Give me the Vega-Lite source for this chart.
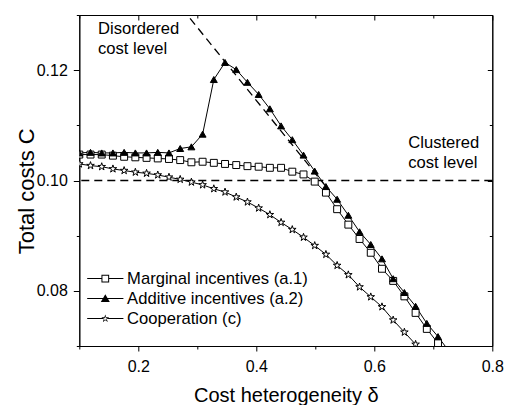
{
  "$schema": "https://vega.github.io/schema/vega-lite/v6.json",
  "width": 413,
  "height": 331,
  "autosize": {"type": "none"},
  "padding": {"left": 79.3, "top": 15, "right": 13.7, "bottom": 59},
  "background": "white",
  "config": {
    "font": "Liberation Sans",
    "view": {"stroke": "black", "strokeWidth": 1},
    "axis": {
      "domainColor": "black", "domainWidth": 1, "tickColor": "black", "tickWidth": 1,
      "labelColor": "black", "labelFont": "Liberation Sans", "labelFontSize": 16,
      "titleColor": "black", "titleFont": "Liberation Sans", "titleFontWeight": "normal",
      "grid": false, "labelFlush": false, "labelOverlap": false
    }
  },
  "resolve": {"axis": {"x": "independent", "y": "independent"}, "scale": {"shape": "independent"}},
  "datasets": {
    "series": [
      {"s": "Marginal incentives (a.1)", "x": 0.100, "y": 0.1047},
      {"s": "Marginal incentives (a.1)", "x": 0.119, "y": 0.1047},
      {"s": "Marginal incentives (a.1)", "x": 0.138, "y": 0.1047},
      {"s": "Marginal incentives (a.1)", "x": 0.157, "y": 0.1045},
      {"s": "Marginal incentives (a.1)", "x": 0.176, "y": 0.1043},
      {"s": "Marginal incentives (a.1)", "x": 0.195, "y": 0.1042},
      {"s": "Marginal incentives (a.1)", "x": 0.214, "y": 0.1041},
      {"s": "Marginal incentives (a.1)", "x": 0.233, "y": 0.1040},
      {"s": "Marginal incentives (a.1)", "x": 0.252, "y": 0.1039},
      {"s": "Marginal incentives (a.1)", "x": 0.271, "y": 0.1037},
      {"s": "Marginal incentives (a.1)", "x": 0.290, "y": 0.1033},
      {"s": "Marginal incentives (a.1)", "x": 0.309, "y": 0.1034},
      {"s": "Marginal incentives (a.1)", "x": 0.328, "y": 0.1032},
      {"s": "Marginal incentives (a.1)", "x": 0.347, "y": 0.1030},
      {"s": "Marginal incentives (a.1)", "x": 0.366, "y": 0.1028},
      {"s": "Marginal incentives (a.1)", "x": 0.385, "y": 0.1026},
      {"s": "Marginal incentives (a.1)", "x": 0.404, "y": 0.1025},
      {"s": "Marginal incentives (a.1)", "x": 0.423, "y": 0.1023},
      {"s": "Marginal incentives (a.1)", "x": 0.442, "y": 0.1023},
      {"s": "Marginal incentives (a.1)", "x": 0.461, "y": 0.1016},
      {"s": "Marginal incentives (a.1)", "x": 0.480, "y": 0.1011},
      {"s": "Marginal incentives (a.1)", "x": 0.499, "y": 0.0998},
      {"s": "Marginal incentives (a.1)", "x": 0.518, "y": 0.0978},
      {"s": "Marginal incentives (a.1)", "x": 0.537, "y": 0.0948},
      {"s": "Marginal incentives (a.1)", "x": 0.556, "y": 0.0920},
      {"s": "Marginal incentives (a.1)", "x": 0.575, "y": 0.0894},
      {"s": "Marginal incentives (a.1)", "x": 0.594, "y": 0.0869},
      {"s": "Marginal incentives (a.1)", "x": 0.613, "y": 0.0840},
      {"s": "Marginal incentives (a.1)", "x": 0.632, "y": 0.0818},
      {"s": "Marginal incentives (a.1)", "x": 0.651, "y": 0.0790},
      {"s": "Marginal incentives (a.1)", "x": 0.670, "y": 0.0760},
      {"s": "Marginal incentives (a.1)", "x": 0.689, "y": 0.0731},
      {"s": "Marginal incentives (a.1)", "x": 0.708, "y": 0.0705},
      {"s": "Marginal incentives (a.1)", "x": 0.727, "y": 0.0678},
      {"s": "Additive incentives (a.2)", "x": 0.100, "y": 0.1050},
      {"s": "Additive incentives (a.2)", "x": 0.119, "y": 0.1051},
      {"s": "Additive incentives (a.2)", "x": 0.138, "y": 0.1050},
      {"s": "Additive incentives (a.2)", "x": 0.157, "y": 0.1050},
      {"s": "Additive incentives (a.2)", "x": 0.176, "y": 0.1051},
      {"s": "Additive incentives (a.2)", "x": 0.195, "y": 0.1050},
      {"s": "Additive incentives (a.2)", "x": 0.214, "y": 0.1050},
      {"s": "Additive incentives (a.2)", "x": 0.233, "y": 0.1051},
      {"s": "Additive incentives (a.2)", "x": 0.252, "y": 0.1050},
      {"s": "Additive incentives (a.2)", "x": 0.271, "y": 0.1058},
      {"s": "Additive incentives (a.2)", "x": 0.290, "y": 0.1061},
      {"s": "Additive incentives (a.2)", "x": 0.309, "y": 0.1084},
      {"s": "Additive incentives (a.2)", "x": 0.328, "y": 0.1183},
      {"s": "Additive incentives (a.2)", "x": 0.347, "y": 0.1214},
      {"s": "Additive incentives (a.2)", "x": 0.366, "y": 0.1201},
      {"s": "Additive incentives (a.2)", "x": 0.385, "y": 0.1178},
      {"s": "Additive incentives (a.2)", "x": 0.404, "y": 0.1156},
      {"s": "Additive incentives (a.2)", "x": 0.423, "y": 0.1130},
      {"s": "Additive incentives (a.2)", "x": 0.442, "y": 0.1099},
      {"s": "Additive incentives (a.2)", "x": 0.461, "y": 0.1074},
      {"s": "Additive incentives (a.2)", "x": 0.480, "y": 0.1046},
      {"s": "Additive incentives (a.2)", "x": 0.499, "y": 0.1017},
      {"s": "Additive incentives (a.2)", "x": 0.518, "y": 0.0989},
      {"s": "Additive incentives (a.2)", "x": 0.537, "y": 0.0966},
      {"s": "Additive incentives (a.2)", "x": 0.556, "y": 0.0937},
      {"s": "Additive incentives (a.2)", "x": 0.575, "y": 0.0907},
      {"s": "Additive incentives (a.2)", "x": 0.594, "y": 0.0884},
      {"s": "Additive incentives (a.2)", "x": 0.613, "y": 0.0858},
      {"s": "Additive incentives (a.2)", "x": 0.632, "y": 0.0822},
      {"s": "Additive incentives (a.2)", "x": 0.651, "y": 0.0797},
      {"s": "Additive incentives (a.2)", "x": 0.670, "y": 0.0772},
      {"s": "Additive incentives (a.2)", "x": 0.689, "y": 0.0741},
      {"s": "Additive incentives (a.2)", "x": 0.708, "y": 0.0717},
      {"s": "Additive incentives (a.2)", "x": 0.727, "y": 0.0690},
      {"s": "Cooperation (c)", "x": 0.100, "y": 0.1030},
      {"s": "Cooperation (c)", "x": 0.119, "y": 0.1027},
      {"s": "Cooperation (c)", "x": 0.138, "y": 0.1025},
      {"s": "Cooperation (c)", "x": 0.157, "y": 0.1021},
      {"s": "Cooperation (c)", "x": 0.176, "y": 0.1018},
      {"s": "Cooperation (c)", "x": 0.195, "y": 0.1015},
      {"s": "Cooperation (c)", "x": 0.214, "y": 0.1013},
      {"s": "Cooperation (c)", "x": 0.233, "y": 0.1010},
      {"s": "Cooperation (c)", "x": 0.252, "y": 0.1006},
      {"s": "Cooperation (c)", "x": 0.271, "y": 0.1002},
      {"s": "Cooperation (c)", "x": 0.290, "y": 0.0997},
      {"s": "Cooperation (c)", "x": 0.309, "y": 0.0992},
      {"s": "Cooperation (c)", "x": 0.328, "y": 0.0985},
      {"s": "Cooperation (c)", "x": 0.347, "y": 0.0979},
      {"s": "Cooperation (c)", "x": 0.366, "y": 0.0970},
      {"s": "Cooperation (c)", "x": 0.385, "y": 0.0961},
      {"s": "Cooperation (c)", "x": 0.404, "y": 0.0950},
      {"s": "Cooperation (c)", "x": 0.423, "y": 0.0938},
      {"s": "Cooperation (c)", "x": 0.442, "y": 0.0924},
      {"s": "Cooperation (c)", "x": 0.461, "y": 0.0911},
      {"s": "Cooperation (c)", "x": 0.480, "y": 0.0897},
      {"s": "Cooperation (c)", "x": 0.499, "y": 0.0882},
      {"s": "Cooperation (c)", "x": 0.518, "y": 0.0866},
      {"s": "Cooperation (c)", "x": 0.537, "y": 0.0846},
      {"s": "Cooperation (c)", "x": 0.556, "y": 0.0829},
      {"s": "Cooperation (c)", "x": 0.575, "y": 0.0807},
      {"s": "Cooperation (c)", "x": 0.594, "y": 0.0789},
      {"s": "Cooperation (c)", "x": 0.613, "y": 0.0771},
      {"s": "Cooperation (c)", "x": 0.632, "y": 0.0747},
      {"s": "Cooperation (c)", "x": 0.651, "y": 0.0725},
      {"s": "Cooperation (c)", "x": 0.670, "y": 0.0703},
      {"s": "Cooperation (c)", "x": 0.689, "y": 0.0680}
    ],
    "dash": [
      {"x": 0.26, "y": 0.13305},
      {"x": 0.515, "y": 0.0993}
    ],
    "notes": [
      {"x": 0.1317, "y": 0.1290, "t": "Disordered\ncost level"},
      {"x": 0.6576, "y": 0.1083, "t": "Clustered\ncost level"}
    ]
  },
  "layer": [
    {
      "data": {"values": [{"y": 0.1}]},
      "mark": {"type": "rule", "color": "black", "strokeWidth": 1.3, "strokeDash": [8, 5]},
      "encoding": {
        "y": {"field": "y", "type": "quantitative", "scale": {"domain": [0.07, 0.13]}, "axis": null}
      }
    },
    {
      "data": {"name": "dash"},
      "mark": {"type": "line", "color": "black", "strokeWidth": 1.3, "strokeDash": [8, 5], "clip": true},
      "encoding": {
        "x": {"field": "x", "type": "quantitative", "scale": {"domain": [0.1, 0.8]},
          "axis": {"orient": "top", "values": [0.2, 0.4, 0.6, 0.8], "labels": false, "title": null, "tickSize": -5}},
        "y": {"field": "y", "type": "quantitative", "scale": {"domain": [0.07, 0.13]},
          "axis": {"orient": "right", "values": [0.08, 0.1, 0.12], "labels": false, "title": null, "tickSize": -5}}
      }
    },
    {
      "data": {"name": "series"},
      "mark": {"type": "line", "color": "black", "strokeWidth": 1, "clip": true},
      "encoding": {
        "x": {"field": "x", "type": "quantitative", "scale": {"domain": [0.1, 0.8]},
          "axis": {"orient": "bottom", "values": [0.2, 0.4, 0.6, 0.8], "format": ".1f",
            "tickSize": 5, "labelPadding": 7,
            "title": "Cost heterogeneity δ", "titleFontSize": 20, "titleBaseline": "alphabetic", "titleY": 55.5}},
        "y": {"field": "y", "type": "quantitative", "scale": {"domain": [0.07, 0.13]},
          "axis": {"orient": "left", "values": [0.08, 0.1, 0.12], "format": ".2f",
            "tickSize": 6, "labelPadding": 6,
            "title": "Total costs C", "titleFontSize": 22, "titleBaseline": "alphabetic", "titleX": -46.3, "titleY": 175.8, "titleAngle": -90, "titleAlign": "center"}},
        "detail": {"field": "s", "type": "nominal"}
      }
    },
    {
      "data": {"name": "series"},
      "mark": {"type": "point", "filled": true, "stroke": "black", "strokeWidth": 1, "opacity": 1, "size": 48, "clip": true},
      "encoding": {
        "x": {"field": "x", "type": "quantitative", "scale": {"domain": [0.1, 0.8]},
          "axis": {"orient": "top", "values": [0.1, 0.3, 0.5, 0.7], "labels": false, "title": null, "domain": false, "tickSize": -3}},
        "y": {"field": "y", "type": "quantitative", "scale": {"domain": [0.07, 0.13]},
          "axis": {"orient": "right", "values": [0.07, 0.09, 0.11, 0.13], "labels": false, "title": null, "domain": false, "tickSize": -3}},
        "fill": {"field": "s", "type": "nominal",
          "scale": {"domain": ["Marginal incentives (a.1)", "Additive incentives (a.2)", "Cooperation (c)"], "range": ["white", "black", "white"]},
          "legend": null},
        "shape": {"field": "s", "type": "nominal",
          "scale": {"domain": ["Marginal incentives (a.1)", "Additive incentives (a.2)", "Cooperation (c)"],
            "range": ["square", "triangle-up", "M0,-1.15L0.258,-0.355L1.094,-0.355L0.417,0.136L0.676,0.930L0,0.439L-0.676,0.930L-0.417,0.136L-1.094,-0.355L-0.258,-0.355Z"]},
          "legend": null}
      }
    },
    {
      "data": {"name": "notes"},
      "mark": {"type": "text", "align": "left", "baseline": "top", "fontSize": 16.6, "lineHeight": 20, "lineBreak": "\n", "color": "black", "font": "Liberation Sans"},
      "encoding": {
        "x": {"field": "x", "type": "quantitative", "scale": {"domain": [0.1, 0.8]},
          "axis": {"orient": "bottom", "values": [0.1, 0.3, 0.5, 0.7], "labels": false, "title": null, "domain": false, "tickSize": 3}},
        "y": {"field": "y", "type": "quantitative", "scale": {"domain": [0.07, 0.13]},
          "axis": {"orient": "left", "values": [0.07, 0.09, 0.11, 0.13], "labels": false, "title": null, "domain": false, "tickSize": 3}},
        "text": {"field": "t", "type": "nominal"}
      }
    },
    {
      "data": {"name": "series"},
      "transform": [{"filter": "false"}],
      "mark": {"type": "point", "filled": true, "color": "black", "strokeWidth": 0, "opacity": 1},
      "encoding": {
        "x": {"field": "x", "type": "quantitative", "axis": null},
        "y": {"field": "y", "type": "quantitative", "axis": null},
        "shape": {"field": "s", "type": "nominal",
          "scale": {"domain": ["Marginal incentives (a.1)", "Additive incentives (a.2)", "Cooperation (c)"],
            "range": [
              "M-5.4,-0.15H-1.15V0.15H-5.4Z M1.15,-0.15H5.4V0.15H1.15Z M-1.15,-1.15H1.15V1.15H-1.15Z M-0.85,-0.85V0.85H0.85V-0.85Z",
              "M-5.4,-0.15H-0.7V0.15H-5.4Z M0.7,-0.15H5.4V0.15H0.7Z M0,-1.3L1.35,1.0L-1.35,1.0Z",
              "M-5.4,-0.15H-0.66V0.15H-5.4Z M0.66,-0.15H5.4V0.15H0.66Z M0,-1.25L0.2807,-0.3863L1.1888,-0.3863L0.4541,0.1476L0.7347,1.0113L0,0.4775L-0.7347,1.0113L-0.4541,0.1476L-1.1888,-0.3863L-0.2807,-0.3863Z M0,-0.6875L-0.1544,-0.2125L-0.6538,-0.2125L-0.2498,0.0812L-0.4041,0.5562L0,0.2626L0.4041,0.5562L0.2498,0.0812L0.6538,-0.2125L0.1544,-0.2125Z"
            ]},
          "legend": {
            "orient": "none", "legendX": 17.7, "legendY": 255.3, "title": null, "padding": 0,
            "labelFontSize": 16.6, "labelFont": "Liberation Sans", "labelColor": "black", "labelLimit": 400,
            "symbolSize": 45, "symbolOpacity": 1,
            "rowPadding": 3, "labelOffset": 13.5
          }}
      }
    }
  ]
}
